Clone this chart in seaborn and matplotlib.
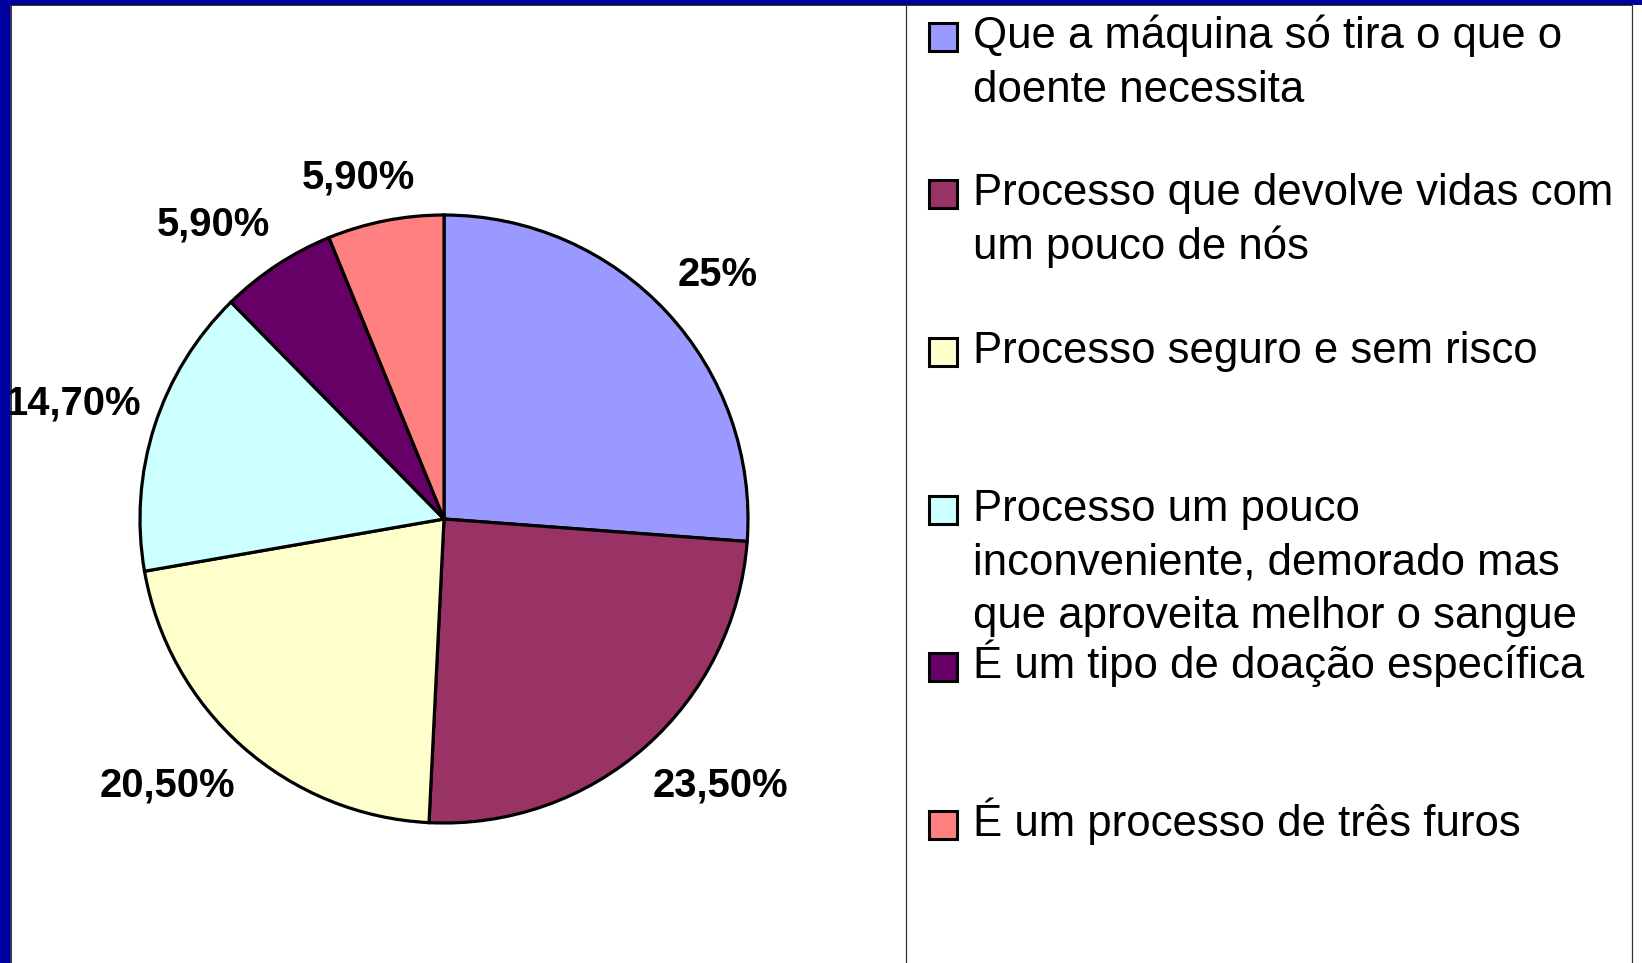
import numpy as np
import matplotlib
matplotlib.use("Agg")
import matplotlib.pyplot as plt
from matplotlib.patches import Rectangle
from matplotlib.lines import Line2D
import seaborn as sns

categories = [
    "Que a máquina só tira o que o\ndoente necessita",
    "Processo que devolve vidas com\num pouco de nós",
    "Processo seguro e sem risco",
    "Processo um pouco\ninconveniente, demorado mas\nque aproveita melhor o sangue",
    "É um tipo de doação específica",
    "É um processo de três furos",
]
values = [25.0, 23.5, 20.5, 14.7, 5.9, 5.9]
value_labels = ["25%", "23,50%", "20,50%", "14,70%", "5,90%", "5,90%"]
colors = ["#9999FF", "#993366", "#FFFFCC", "#CCFFFF", "#660066", "#FF8080"]

sns.set_theme(style="white")
plt.rcParams["font.family"] = ["Liberation Sans", "DejaVu Sans"]

W, H = 1642, 963
fig = plt.figure(figsize=(W / 100, H / 100), dpi=100)
fig.patch.set_facecolor("white")

def fx(x):
    return x / W

def fy(y):
    return 1 - y / H

# pie axes
cx, cy, R = 444, 519, 304
ax = fig.add_axes([fx(cx - R), fy(cy + R), 2 * R / W, 2 * R / H])
wedges, texts = ax.pie(
    values, colors=colors, startangle=90, counterclock=False,
    labels=value_labels, labeldistance=1.2,
    wedgeprops=dict(edgecolor="black", linewidth=2.3),
    textprops=dict(fontsize=28.8, fontweight="bold", color="black"),
)
ax.set_xlim(-1, 1)
ax.set_ylim(-1, 1)
ax.set_aspect("equal")
ax.axis("off")

# place each label just outside the pie, shifted by its half-size
fig.canvas.draw()
renderer = fig.canvas.get_renderer()
edge_dist = 1.065
k = 2.3
for w, t in zip(wedges, texts):
    t.set_ha("center")
    t.set_va("center")
    ang = np.deg2rad((w.theta1 + w.theta2) / 2)
    c, s = np.cos(ang), np.sin(ang)
    bb = t.get_window_extent(renderer)
    hw = bb.width * 0.92 / 2 / R
    hh = 24 / R
    px = edge_dist * c + np.sign(c) * hw * min(1.0, k * abs(c))
    py = edge_dist * s + np.sign(s) * hh * min(1.0, k * abs(s))
    t.set_position((px, py))

# legend (manual)
base0, pitch, line_h = 48, 157.5, 53.5
for i, (lab, col) in enumerate(zip(categories, colors)):
    b = base0 + pitch * i
    fig.patches.append(Rectangle((fx(929), fy(b - 11 + 14)), 28 / W, 28 / H,
                                 transform=fig.transFigure, facecolor=col,
                                 edgecolor="black", linewidth=2.2))
    for j, line in enumerate(lab.split("\n")):
        fig.text(fx(973), fy(b + j * line_h), line, fontsize=31.5,
                 va="baseline", ha="left", color="black")

# frame / border
fig.patches.append(Rectangle((0, 0), fx(10), 1, transform=fig.transFigure,
                             facecolor="#0000A0", edgecolor="none"))
fig.patches.append(Rectangle((0, fy(5)), 1, 5 / H, transform=fig.transFigure,
                             facecolor="#0000A0", edgecolor="none"))
fig.lines.append(Line2D([fx(11), fx(11)], [0, fy(5)], transform=fig.transFigure,
                        color="#101030", linewidth=1.2))
fig.lines.append(Line2D([fx(10), fx(1632)], [fy(5.5), fy(5.5)], transform=fig.transFigure,
                        color="#101030", linewidth=1.2))
fig.lines.append(Line2D([fx(906), fx(906)], [0, fy(5)], transform=fig.transFigure,
                        color="#333333", linewidth=0.9))
fig.lines.append(Line2D([fx(1632), fx(1632)], [0, fy(5)], transform=fig.transFigure,
                        color="#333333", linewidth=0.9))

fig.savefig("out.png", dpi=100, facecolor="white")
